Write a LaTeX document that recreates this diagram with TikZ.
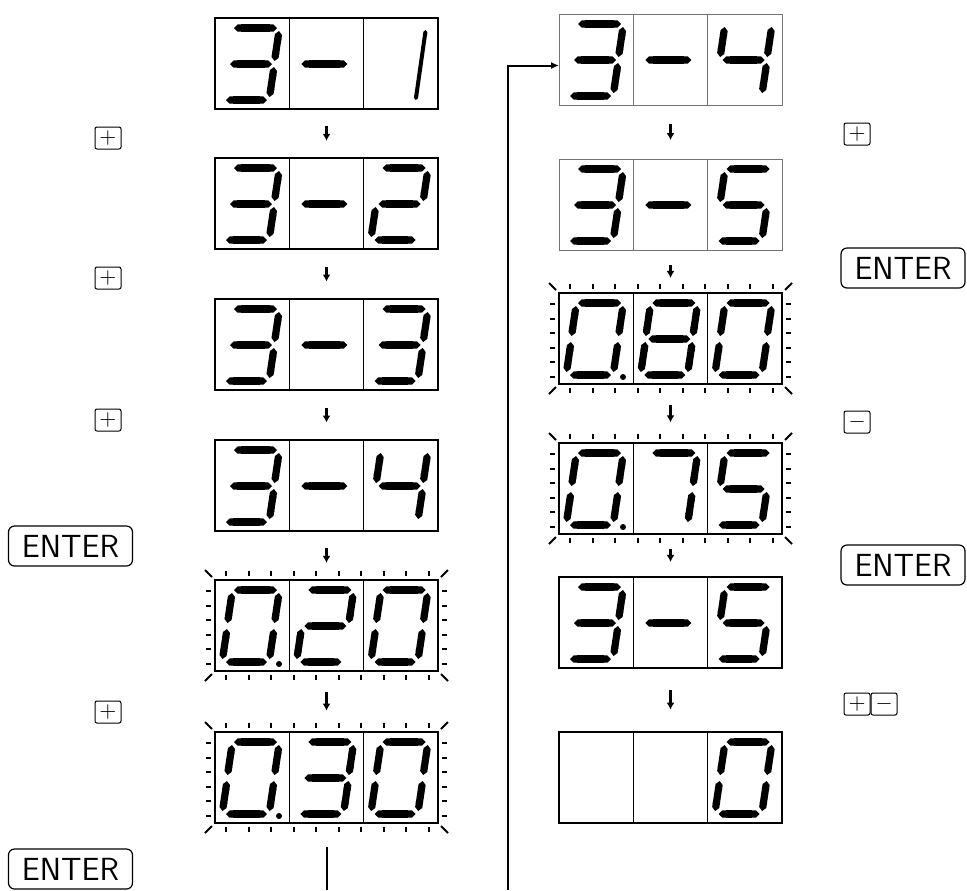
\documentclass[tikz,border=0pt]{standalone}
\usetikzlibrary{arrows.meta, calc, positioning}

\tikzset{
  dispbox/.style={draw, line width=0.7pt, minimum width=111.5pt, minimum height=45.5pt, inner sep=0pt, outer sep=0pt},
  divider/.style={line width=0.6pt},
  segment/.style={line width=3.6pt, {Triangle Cap}-{Triangle Cap}},
  thinseg/.style={segment, line width=2pt},
  tick/.style={line width=1pt},
  steparr/.style={line width=1.3pt, -{Latex[length=3.5pt,width=4pt]}},
  flow/.style={line width=1pt},
  key/.style={draw, line width=0.5pt, rounded corners=1pt, minimum width=13pt, minimum height=11pt, inner sep=0pt, font=\fontsize{11}{11}\selectfont},
  enterkey/.style={draw, line width=0.6pt, rounded corners=3pt, minimum width=62pt, minimum height=20pt, inner sep=0pt, font=\sffamily\fontsize{16}{16}\selectfont},
}

%% segments of one cell (cell 74 x 91, origin top left)
\newcommand{\segA}{\draw[segment] (19,10) -- (62,10);}
\newcommand{\segB}{\draw[segment] (64,13) -- (59.5,43);}
\newcommand{\segC}{\draw[segment] (59,49) -- (54.5,79);}
\newcommand{\segD}{\draw[segment] (11,82) -- (52,82);}
\newcommand{\segE}{\draw[segment] (12,49) -- (7.5,79);}
\newcommand{\segF}{\draw[segment] (17,13) -- (12.5,43);}
\newcommand{\segG}{\draw[segment] (15,46) -- (57,46);}
\newcommand{\dotDP}{\fill (64,84) circle (3);}

%% digits
\newcommand{\dZero}{\segA\segB\segC\segD\segE\segF}
\newcommand{\dOne}{\draw[thinseg] (62,12) -- (52,82);}
\newcommand{\dTwo}{\segA\segB\segG\segE\segD}
\newcommand{\dThree}{\segA\segB\segG\segC\segD}
\newcommand{\dFour}{\segF\segG\segB\segC}
\newcommand{\dFive}{\segA\segF\segG\segC\segD}
\newcommand{\dSeven}{\segA\segB\segC}
\newcommand{\dEight}{\segA\segB\segC\segD\segE\segF\segG}
\newcommand{\dDash}{\draw[segment] (12,46) -- (58,46);}

%% one display: [style], name, centre, three cells
\newcommand{\showdisp}[6][]{%
  \node[dispbox, #1] (#2) at (#3) {};
  \draw[divider, #1] ([xshift=37.17pt]#2.north west) -- ([xshift=37.17pt]#2.south west);
  \draw[divider, #1] ([xshift=-37.17pt]#2.north east) -- ([xshift=-37.17pt]#2.south east);
  \begin{scope}[shift={(#2.north west)}]#4\end{scope}
  \begin{scope}[shift={([xshift=37.17pt]#2.north west)}]#5\end{scope}
  \begin{scope}[shift={([xshift=74.33pt]#2.north west)}]#6\end{scope}
}

%% flashing marks round a display
\newcommand{\blink}[1]{%
  \begin{scope}[shift={(#1.north west)}]
    \foreach \i in {0,...,9} {
      \draw[tick] (11+22.5*\i,-4) -- ++(0,-5);
      \draw[tick] (11+22.5*\i,95) -- ++(0,5);
    }
    \foreach \j in {0,...,5} {
      \draw[tick] (-4,11+14.5*\j) -- ++(-5,0);
      \draw[tick] (227,11+14.5*\j) -- ++(5,0);
    }
    \draw[tick] (-3,-3) -- (-10,-10);
    \draw[tick] (226,-3) -- (233,-10);
    \draw[tick] (-3,94) -- (-10,101);
    \draw[tick] (226,94) -- (233,101);
  \end{scope}}

\begin{document}
\begin{tikzpicture}[x=0.5pt, y=-0.5pt]

    \useasboundingbox (0,0) rectangle (967,890);

    %% --- Left column ---
    \showdisp{d1}{326.5,63.5}{\dThree}{\dDash}{\dOne}
    \showdisp{d2}{326.5,203.5}{\dThree}{\dDash}{\dTwo}
    \showdisp{d3}{326.5,344.5}{\dThree}{\dDash}{\dThree}
    \showdisp{d4}{326.5,485.5}{\dThree}{\dDash}{\dFour}
    \showdisp{d5}{326.5,625.5}{\dZero\dotDP}{\dTwo}{\dZero}
    \showdisp{d6}{326.5,777.5}{\dZero\dotDP}{\dThree}{\dZero}
    \blink{d5}
    \blink{d6}

    %% --- Right column ---
    \showdisp[draw=black!55, line width=0.5pt]{r1}{670.5,59.5}{\dThree}{\dDash}{\dFour}
    \showdisp[draw=black!55, line width=0.5pt]{r2}{670.5,204.5}{\dThree}{\dDash}{\dFive}
    \showdisp{r3}{670.5,338.5}{\dZero\dotDP}{\dEight}{\dZero}
    \showdisp{r4}{670.5,488.5}{\dZero\dotDP}{\dSeven}{\dFive}
    \showdisp{r5}{670.5,622.5}{\dThree}{\dDash}{\dFive}
    \showdisp{r6}{670.5,777.5}{}{}{\dZero}
    \blink{r3}
    \blink{r4}

    %% --- Steps ---
    \foreach \a/\b in {d1/d2, d2/d3, d3/d4, d4/d5, d5/d6, r1/r2, r2/r3, r3/r4, r4/r5, r5/r6}
        \draw[steparr] ($(\a.south)!0.35!(\b.north)$) -- ($(\a.south)!0.65!(\b.north)$);

    %% --- Keys, left ---
    \node[key] (kp1) at (108,138) {$+$};
    \node[key] (kp2) at (108,278) {$+$};
    \node[key] (kp3) at (108,420) {$+$};
    \node[enterkey] (ent1) at (70.5,546) {ENTER};
    \node[key] (kp4) at (108,712) {$+$};
    \node[enterkey] (ent2) at (70.5,869) {ENTER};

    %% --- Keys, right ---
    \node[key] (kp5) at (857,134) {$+$};
    \node[enterkey] (ent3) at (903,268) {ENTER};
    \node[key] (km1) at (857,422) {$-$};
    \node[enterkey] (ent4) at (903,565) {ENTER};
    \node[key] (kp6) at (857,704) {$+$};
    \node[key, right=0pt of kp6] (km2) {$-$};

    %% --- Loop over the columns ---
    \coordinate (lend) at (326.5,890);
    \coordinate (rend) at (508,890);
    \draw[flow] ([yshift=-12pt]d6.south) -- (lend);
    \draw[flow, -{Latex[length=4pt,width=3.5pt]}] (rend) |- ([yshift=-3pt]r1.west);

\end{tikzpicture}
\end{document}
